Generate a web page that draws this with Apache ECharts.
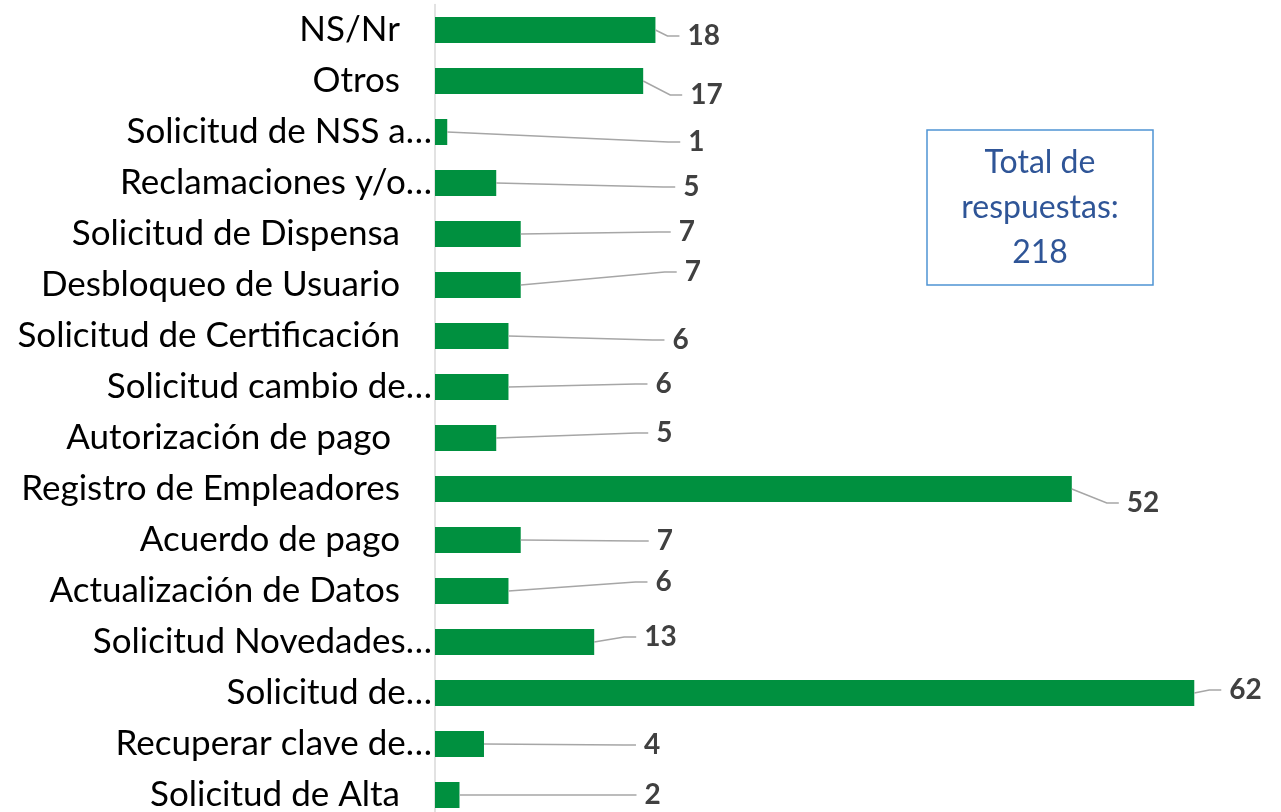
<!DOCTYPE html>
<html>
<head>
<meta charset="utf-8">
<script src="https://cdn.jsdelivr.net/npm/echarts@6/dist/echarts.min.js"></script>
<style>
  html, body { margin: 0; padding: 0; background: #fff; }
  #chart { width: 1281px; height: 812px; }
</style>
</head>
<body>
<div id="chart"></div>
<script>
// ---- Data ----
const categories = [
  'NS/Nr',
  'Otros',
  'Solicitud de NSS a…',
  'Reclamaciones y/o…',
  'Solicitud de Dispensa',
  'Desbloqueo de Usuario',
  'Solicitud de Certificación',
  'Solicitud cambio de…',
  'Autorización de pago ',
  'Registro de Empleadores',
  'Acuerdo de pago',
  'Actualización de Datos',
  'Solicitud Novedades…',
  'Solicitud de…',
  'Recuperar clave de…',
  'Solicitud de Alta'
];
const values = [18, 17, 1, 5, 7, 7, 6, 6, 5, 52, 7, 6, 13, 62, 4, 2];
const totalLines = ['Total de', 'respuestas:', '218'];

// ---- Label placement (px offsets of each data label from its bar end) ----
const labelDx = [32, 47, 241, 187, 158, 164, 164, 147, 160, 55, 136, 147, 50, 35, 160, 185];
const labelDy = [6, 14, 10, 4, -2, -13, 4, -3, -5, 14, 1, -9, -5, -3, 1, 0];

const chart = echarts.init(document.getElementById('chart'));
const FONT = 'Lato, "Open Sans", sans-serif';

const option = {
  animation: false,
  backgroundColor: '#ffffff',
  grid: { left: 435, top: 4.5, width: 845, height: 816, containLabel: false, outerBoundsMode: 'none' },
  xAxis: {
    type: 'value', min: 0, max: 69,
    show: false
  },
  yAxis: {
    type: 'category',
    data: categories,
    inverse: true,
    axisTick: { show: false },
    axisLine: { show: true, lineStyle: { color: '#d9d9d9', width: 1.5 } },
    axisLabel: {
      color: '#000', fontSize: 35, fontFamily: FONT, margin: 3,
      formatter: function (v) {
        return v.endsWith('…') ? '{t|' + v + '}' : '{n|' + v + '}';
      },
      rich: {
        t: { color: '#000', fontSize: 35, fontFamily: FONT },
        n: { color: '#000', fontSize: 35, fontFamily: FONT, padding: [0, 32, 0, 0] }
      }
    },
    splitLine: { show: false }
  },
  series: [
    {
      type: 'bar',
      data: values,
      barWidth: 26,
      itemStyle: { color: '#00903F' },
      label: { show: false }
    },
    {
      type: 'custom',
      coordinateSystem: 'cartesian2d',
      clip: false,
      z: 5,
      encode: { x: 0, y: 1 },
      data: values.map((v, i) => [v, i]),
      renderItem: function (params, api) {
        const i = params.dataIndex;
        const end = api.coord([api.value(0), api.value(1)]);
        const tx = end[0] + labelDx[i];
        const ty = end[1] + labelDy[i];
        return {
          type: 'group',
          children: [
            {
              type: 'polyline',
              shape: { points: [[end[0], end[1]], [tx - 20, ty], [tx - 8, ty]] },
              style: { stroke: '#a6a6a6', lineWidth: 1.5, fill: null }
            },
            {
              type: 'text',
              style: {
                x: tx, y: ty,
                text: String(api.value(0)),
                fill: '#404040',
                fontSize: 28,
                fontWeight: 'bold',
                fontFamily: FONT,
                align: 'left',
                verticalAlign: 'middle'
              }
            }
          ]
        };
      }
    }
  ],
  graphic: [
    {
      type: 'rect',
      shape: { x: 927, y: 130, width: 226, height: 155 },
      style: { fill: '#ffffff', stroke: '#4f94d4', lineWidth: 1.5 }
    },
    {
      type: 'text',
      x: 1040, y: 208,
      style: {
        text: totalLines.join('\n'),
        align: 'center',
        verticalAlign: 'middle',
        fill: '#2f5597',
        fontSize: 32,
        lineHeight: 45,
        fontFamily: FONT
      }
    }
  ]
};
chart.setOption(option);
</script>
</body>
</html>
